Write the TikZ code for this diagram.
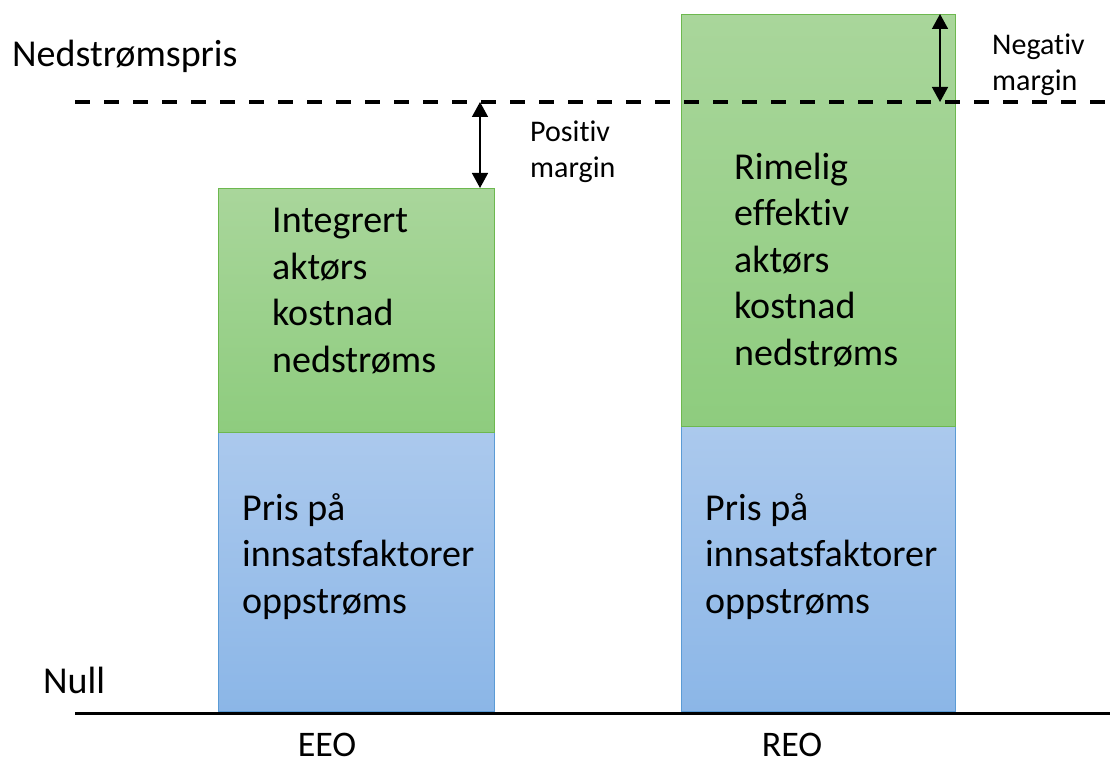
\documentclass[tikz,border=0pt]{standalone}
\usepackage{fontspec}
\setmainfont[Ligatures=NoCommon]{Carlito}
\usetikzlibrary{arrows.meta}
\definecolor{gtop}{HTML}{A9D69B}
\definecolor{gbot}{HTML}{8ECC7E}
\definecolor{gline}{HTML}{6DB84F}
\definecolor{btop}{HTML}{ABC9ED}
\definecolor{bbot}{HTML}{8BB6E7}
\definecolor{bline}{HTML}{5B9BD5}
\tikzset{
  greenbox/.style={draw=gline, line width=1.3pt, top color=gtop, bottom color=gbot, anchor=north west, inner sep=0pt},
  bluebox/.style={draw=bline, line width=1.3pt, top color=btop, bottom color=bbot, anchor=north west, inner sep=0pt},
  boxtext/.style={anchor=base west, align=left, inner sep=0pt, font=\fontsize{38}{46.5}\selectfont},
  lbl/.style={anchor=base west, inner sep=0pt, font=\fontsize{38}{46}\selectfont},
  axlbl/.style={anchor=base, inner sep=0pt, font=\fontsize{36}{40}\selectfont},
  small/.style={anchor=base west, align=left, inner sep=0pt, font=\fontsize{30}{36.5}\selectfont},
  dimarrow/.style={{Triangle[width=16pt,length=15pt]}-{Triangle[width=16pt,length=15pt]}, line width=1.5pt},
}
\begin{document}
\begin{tikzpicture}[x=1pt,y=-1pt]
\useasboundingbox (0,0) rectangle (1110,762);
% boxes
\node[bluebox, minimum width=276pt, minimum height=279pt] (eeoB) at (218,432) {};
\node[greenbox, minimum width=276pt, minimum height=244pt] (eeoG) at (218,188) {};
\node[bluebox, minimum width=274pt, minimum height=285pt] (reoB) at (681,426) {};
\node[greenbox, minimum width=274pt, minimum height=412pt] (reoG) at (681,14) {};
% axis lines
\coordinate (axL) at (75,713);
\coordinate (axR) at (1110,713);
\draw[line width=3pt] (axL) -- (axR);
\coordinate (dL) at (75,102);
\coordinate (dR) at (1110,102);
\draw[line width=3.5pt, dash pattern=on 15pt off 14pt] (dL) -- (dR);
% arrows
\coordinate (pa) at (480,102);
\coordinate (na) at (940,102);
\draw[dimarrow] (pa) -- (pa |- eeoG.north);
\draw[dimarrow] (reoG.north -| na) -- (na);
% texts
\node[lbl] (np) at (12,67) {Nedstrømspris};
\node[lbl] (null) at (43,693) {Null};
\node[axlbl] (eeo) at (327,756) {EEO};
\node[axlbl] (reo) at (792,756) {REO};
\node[small] (pos) at (530,178) {Positiv\\margin};
\node[small] (neg) at (992,91) {Negativ\\margin};
\node[boxtext] (t1) at (272,372) {Integrert\\aktørs\\kostnad\\nedstrøms};
\node[boxtext] (t2) at (242,613) {Pris på\\innsatsfaktorer\\oppstrøms};
\node[boxtext] (t3) at (734,365) {Rimelig\\effektiv\\aktørs\\kostnad\\nedstrøms};
\node[boxtext] (t4) at (705,613) {Pris på\\innsatsfaktorer\\oppstrøms};
\end{tikzpicture}
\end{document}
